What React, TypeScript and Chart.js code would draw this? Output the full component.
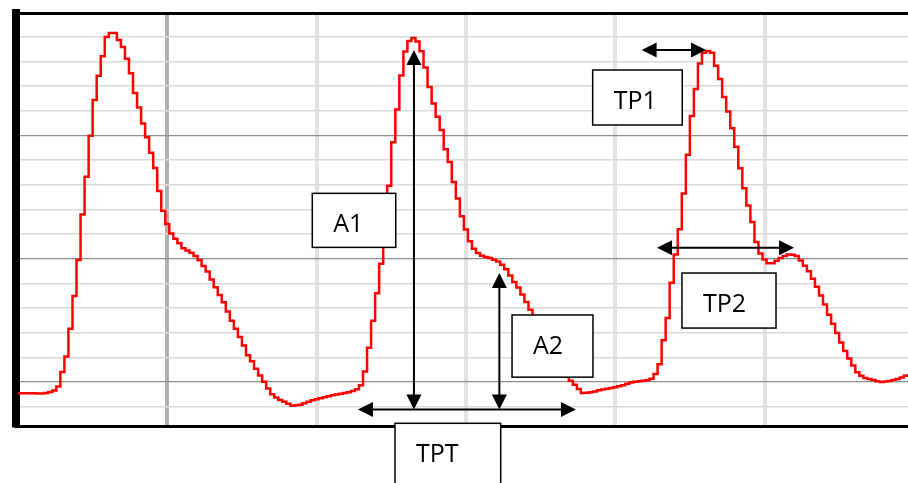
import React, { useEffect, useRef } from 'react';
import { Chart, registerables } from 'chart.js';

Chart.register(...registerables);

// ---- data ----
const SAMPLE_STEP = 1 / 37; // x-units between consecutive samples
const pulseValues = [
  -4.5, -4.5, -4.5, -4.5, -4.5, -4.6, -4.6, -4.4, -4.0, -3.4,
  -1.8, 4.1, 10.4, 21.6, 34.9, 49.5, 67.9, 83.2, 99.8, 114.3,
  124.2, 132.1, 139.9, 141.5, 141.5, 138.7, 135.8, 131.1, 125.2, 117.2,
  111.3, 104.8, 99.2, 93.0, 86.8, 77.5, 69.4, 64.1, 60.2, 58.1,
  56.3, 54.2, 53.3, 52.4, 51.1, 49.4, 47.1, 44.8, 41.6, 38.4,
  35.3, 32.4, 28.6, 24.9, 21.6, 18.3, 14.8, 10.9, 8.4, 5.4,
  2.7, 0.1, -2.6, -4.9, -6.2, -7.3, -8.0, -8.8, -9.6, -9.4,
  -9.2, -8.6, -8.0, -7.4, -7.0, -6.5, -6.1, -5.7, -5.3, -5.0,
  -4.7, -4.4, -4.1, -3.6, -2.9, -1.3, 4.3, 13.9, 24.9, 36.0,
  48.0, 58.7, 79.6, 97.2, 110.5, 124.3, 134.0, 138.3, 139.5, 138.0,
  134.1, 127.5, 119.6, 112.9, 107.5, 102.2, 94.4, 89.2, 81.1, 74.4,
  67.2, 61.8, 57.1, 54.0, 52.3, 51.2, 50.7, 50.3, 49.6, 48.9,
  47.6, 45.7, 43.2, 40.6, 38.3, 35.5, 32.5, 29.3, 25.8, 22.4,
  18.9, 15.4, 12.2, 9.2, 6.8, 4.5, 2.2, 0.5, -1.1, -2.8,
  -4.4, -4.3, -4.1, -3.8, -3.3, -3.0, -2.7, -2.4, -2.1, -1.7,
  -1.3, -0.7, -0.2, 0.1, 0.3, 0.5, 0.7, 1.4, 3.3, 7.2,
  17.0, 26.0, 40.3, 51.7, 62.0, 76.4, 92.1, 107.9, 118.8, 129.1,
  133.5, 134.2, 133.5, 128.2, 122.8, 115.6, 109.7, 102.9, 95.4, 86.7,
  78.6, 71.6, 64.9, 56.8, 52.1, 49.7, 48.2, 48.2, 49.2, 50.3,
  51.1, 51.7, 51.6, 51.1, 49.3, 47.2, 44.9, 41.9, 38.6, 35.1,
  31.4, 27.3, 23.6, 19.9, 16.0, 12.6, 9.6, 6.7, 4.0, 2.6,
  1.7, 1.3, 0.8, 0.3, 0.0, 0.2, 0.4, 0.8, 1.3, 1.9,
  2.6, 2.8,
];

const xTickValues = [0, 1, 2, 3, 4, 5];
const yTickValues = [-10, 0, 10, 20, 30, 40, 50, 60, 70, 80, 90, 100, 110, 120, 130, 140];
const X_MIN = -0.0134;
const X_MAX = 5.961;
const Y_MIN = -18;
const Y_MAX = 149.6;

// annotation labels and boxes (data units)
const boxLabels = ['A1', 'A2', 'TPT', 'TP1', 'TP2'];
const boxLeft = [1.971, 3.309, 2.525, 3.849, 4.447];
const boxRight = [2.530, 3.851, 3.233, 4.449, 5.077];
const boxTop = [76.5, 27.2, -16.7, 126.5, 44.2];
const boxBottom = [54.6, 2.0, -48, 104.2, 21.9];

// vertical double arrows (A1, A2)
const vArrowX = [2.652, 3.224];
const vArrowTop = [134.6, 44.2];
const vArrowBottom = [-11.07, -11.07];

// horizontal double arrows (TPT, TP1, TP2)
const hArrowY = [-11.07, 134.6, 54.45];
const hArrowFrom = [2.277, 4.177, 4.280];
const hArrowTo = [3.737, 4.608, 5.198];

const annotationPlugin = {
  id: 'pulseAnnotations',
  afterDraw(chart: any) {
    const { ctx } = chart;
    const xs = chart.scales.x;
    const ys = chart.scales.y;
    const HEAD = 15;
    const HALF = 7.5;
    ctx.save();
    ctx.strokeStyle = '#000';
    ctx.fillStyle = '#000';
    ctx.lineWidth = 2;

    const tri = (ax: number, ay: number, bx1: number, by1: number, bx2: number, by2: number) => {
      ctx.beginPath();
      ctx.moveTo(ax, ay);
      ctx.lineTo(bx1, by1);
      ctx.lineTo(bx2, by2);
      ctx.closePath();
      ctx.fill();
    };

    for (let i = 0; i < vArrowX.length; i++) {
      const px = xs.getPixelForValue(vArrowX[i]);
      const top = ys.getPixelForValue(vArrowTop[i]);
      const bot = ys.getPixelForValue(vArrowBottom[i]);
      ctx.beginPath();
      ctx.moveTo(px, top + HEAD - 1);
      ctx.lineTo(px, bot - HEAD + 1);
      ctx.stroke();
      tri(px, top, px - HALF, top + HEAD, px + HALF, top + HEAD);
      tri(px, bot, px - HALF, bot - HEAD, px + HALF, bot - HEAD);
    }

    for (let i = 0; i < hArrowY.length; i++) {
      const py = ys.getPixelForValue(hArrowY[i]);
      const l = xs.getPixelForValue(hArrowFrom[i]);
      const r = xs.getPixelForValue(hArrowTo[i]);
      ctx.beginPath();
      ctx.moveTo(l + HEAD - 1, py);
      ctx.lineTo(r - HEAD + 1, py);
      ctx.stroke();
      tri(l, py, l + HEAD, py - HALF, l + HEAD, py + HALF);
      tri(r, py, r - HEAD, py - HALF, r - HEAD, py + HALF);
    }

    ctx.lineWidth = 1.5;
    ctx.font = '25px "Open Sans", "Liberation Sans", sans-serif';
    ctx.textAlign = 'left';
    ctx.textBaseline = 'alphabetic';
    for (let i = 0; i < boxLabels.length; i++) {
      const l = xs.getPixelForValue(boxLeft[i]);
      const r = xs.getPixelForValue(boxRight[i]);
      const t = ys.getPixelForValue(boxTop[i]);
      const b = ys.getPixelForValue(boxBottom[i]);
      ctx.fillStyle = '#ffffff';
      ctx.fillRect(l, t, r - l, b - t);
      ctx.strokeRect(l, t, r - l, b - t);
      ctx.fillStyle = '#000';
      ctx.fillText(boxLabels[i], l + 21, t + 39);
    }
    ctx.restore();
  },
};

export default function App() {
  const canvasRef = useRef<HTMLCanvasElement | null>(null);

  useEffect(() => {
    if (!canvasRef.current) return;
    const points = pulseValues.map((v, i) => ({ x: i * SAMPLE_STEP, y: v }));
    const chart = new Chart(canvasRef.current, {
      type: 'line',
      data: {
        datasets: [
          {
            data: points,
            borderColor: '#ff0000',
            borderWidth: 2.5,
            pointRadius: 0,
            stepped: 'middle',
            fill: false,
          },
        ],
      },
      options: {
        responsive: false,
        animation: false,
        events: [],
        layout: { padding: { left: 16, top: 13, right: 0, bottom: 56.5 } },
        plugins: {
          legend: { display: false },
          tooltip: { enabled: false },
          title: { display: false },
        },
        scales: {
          x: {
            type: 'linear',
            position: 'bottom',
            min: X_MIN,
            max: X_MAX,
            afterBuildTicks: (s: any) => {
              s.ticks = xTickValues.map((value) => ({ value }));
            },
            ticks: { display: false },
            grid: {
              color: (c: any) => (c.tick && c.tick.value === 1 ? '#b0b0b0' : '#e3e3e3'),
              lineWidth: 4,
              drawTicks: false,
              tickLength: 0,
            },
            border: { display: true, color: '#000000', width: 3 },
          },
          xTop: {
            type: 'linear',
            axis: 'x',
            position: 'top',
            min: X_MIN,
            max: X_MAX,
            ticks: { display: false },
            grid: { display: false, drawTicks: false, tickLength: 0 },
            border: { display: true, color: '#000000', width: 3 },
          },
          y: {
            type: 'linear',
            min: Y_MIN,
            max: Y_MAX,
            afterBuildTicks: (s: any) => {
              s.ticks = yTickValues.map((value) => ({ value }));
            },
            ticks: { display: false },
            grid: {
              color: (c: any) => (c.tick && c.tick.value % 50 === 0 ? '#8c8c8c' : '#dadada'),
              lineWidth: (c: any) => (c.tick && c.tick.value % 50 === 0 ? 1.3 : 1.6),
              drawTicks: false,
              tickLength: 0,
            },
            border: { display: true, color: '#000000', width: 8 },
          },
        },
      } as any,
      plugins: [annotationPlugin],
    });
    return () => chart.destroy();
  }, []);

  return (
    <div style={{ position: 'absolute', left: 0, top: 0, width: 908, height: 483, background: '#ffffff' }}>
      <canvas ref={canvasRef} width={908} height={483} style={{ display: 'block' }} />
    </div>
  );
}
